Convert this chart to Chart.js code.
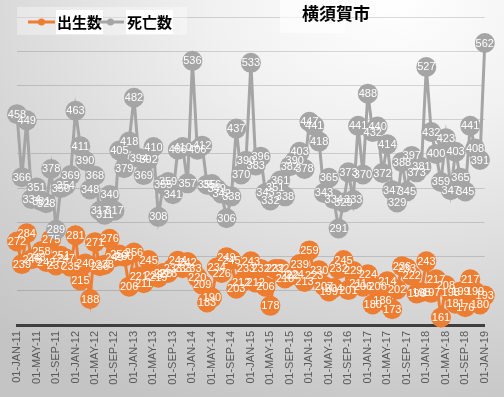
<!DOCTYPE html>
<html>
<head>
<meta charset="utf-8">
<script src="https://cdn.jsdelivr.net/npm/chart.js@4.4.1/dist/chart.umd.min.js"></script>
<style>
    html, body { margin: 0; padding: 0; }
    body {
        width: 504px;
        height: 397px;
        overflow: hidden;
        background: radial-gradient(ellipse 120% 110% at 78% 0%, #ffffff 0%, #f1f1f1 30%, #d6d6d6 70%, #c4c4c4 100%);
    }
    #wrap { position: relative; width: 504px; height: 397px; }
</style>
</head>
<body>
<div id="wrap"><canvas id="chart"></canvas></div>
<script>
    // data: monthly, Jan 2011 .. Jan 2019
    const monthNames = ['JAN', 'FEB', 'MAR', 'APR', 'MAY', 'JUN', 'JUL', 'AUG', 'SEP', 'OCT', 'NOV', 'DEC'];
    const years = ['11', '12', '13', '14', '15', '16', '17', '18', '19'];

    const births = [
        272, 239, 284, 246, 248, 258, 242, 275, 237, 251, 247, 235,
        281, 215, 240, 188, 271, 236, 238, 276, 249, 253, 250, 206,
        256, 221, 211, 245, 223, 219, 226, 226, 233, 244, 233, 242,
        233, 220, 209, 183, 190, 234, 226, 249, 245, 203, 212, 233,
        243, 212, 232, 206, 178, 232, 232, 218, 222, 224, 239, 213,
        259, 223, 230, 207, 199, 204, 232, 245, 201, 229, 211, 206,
        224, 180, 206, 186, 214, 173, 202, 236, 233, 222, 196, 198,
        243, 197, 217, 161, 208, 198, 181, 199, 176, 217, 199, 180,
        193
    ];
    const deaths = [
        458, 366, 449, 334, 351, 331, 328, 378, 289, 350, 354, 369,
        463, 411, 390, 348, 368, 317, 311, 340, 317, 405, 379, 418,
        482, 394, 369, 392, 410, 308, 355, 359, 341, 406, 410, 357,
        536, 406, 412, 355, 356, 349, 342, 306, 338, 437, 370, 390,
        533, 383, 396, 343, 332, 351, 361, 338, 382, 390, 403, 378,
        447, 441, 418, 343, 365, 334, 291, 329, 373, 333, 441, 370,
        488, 432, 440, 372, 414, 347, 329, 388, 345, 397, 373, 381,
        527, 432, 400, 359, 423, 347, 403, 365, 345, 441, 408, 391,
        562
    ];

    const labels = [];
    years.forEach((y) => {
        monthNames.forEach((m) => {
            if (labels.length < births.length) {
                labels.push('01-' + m + '-' + y);
            }
        });
    });

    const ORANGE = '#ED7D31';
    const GRAY = '#A5A5A5';

    // white value text inside each marker
    const valueLabels = {
        id: 'valueLabels',
        afterDatasetsDraw(chart) {
            const ctx = chart.ctx;
            ctx.save();
            ctx.font = '11px "Liberation Sans", Arial, sans-serif';
            ctx.fillStyle = '#ffffff';
            ctx.textAlign = 'center';
            ctx.textBaseline = 'middle';
            [1, 0].forEach((di) => {
                const ds = chart.data.datasets[di];
                chart.getDatasetMeta(di).data.forEach((pt, i) => {
                    ctx.fillText(String(ds.data[i]), pt.x, pt.y + 0.5);
                });
            });
            ctx.restore();
        },
    };

    // legend box top-left and city title
    const headerDraw = {
        id: 'headerDraw',
        afterDraw(chart) {
            const ctx = chart.ctx;
            ctx.save();
            ctx.fillStyle = 'rgba(255,255,255,0.35)';
            ctx.fillRect(17, 7, 170, 28);
            ctx.fillStyle = 'rgba(255,255,255,0.6)';
            ctx.fillRect(280, 0, 65, 33);

            const items = [
                { x: 28, color: ORANGE, text: '出生数' },
                { x: 97, color: GRAY, text: '死亡数' },
            ];
            ctx.font = 'bold 15px "Noto Sans CJK JP", sans-serif';
            ctx.textBaseline = 'middle';
            items.forEach((it) => {
                ctx.strokeStyle = it.color;
                ctx.lineWidth = 3;
                ctx.beginPath();
                ctx.moveTo(it.x, 22);
                ctx.lineTo(it.x + 27, 22);
                ctx.stroke();
                ctx.fillStyle = it.color;
                ctx.beginPath();
                ctx.arc(it.x + 13.5, 22, 3.5, 0, Math.PI * 2);
                ctx.fill();
                const tx = it.x + (it.text === '出生数' ? 29 : 30);
                const w = ctx.measureText(it.text).width;
                ctx.fillStyle = '#ffffff';
                ctx.fillRect(tx - 1, 10, w + 2, 24);
                ctx.fillStyle = '#000000';
                ctx.textAlign = 'left';
                ctx.fillText(it.text, tx, 22);
            });

            ctx.font = 'bold 17px "Noto Sans CJK JP", sans-serif';
            ctx.fillStyle = '#000000';
            ctx.textAlign = 'left';
            ctx.fillText('横須賀市', 302, 14);
            ctx.restore();
        },
    };

    new Chart(document.getElementById('chart'), {
        type: 'line',
        data: {
            labels: labels,
            datasets: [
                {
                    label: '出生数',
                    data: births,
                    borderColor: ORANGE,
                    backgroundColor: ORANGE,
                    borderWidth: 3,
                    pointRadius: 10,
                    pointHoverRadius: 10,
                    pointBorderWidth: 0,
                    tension: 0,
                    order: 1,
                    clip: false,
                },
                {
                    label: '死亡数',
                    data: deaths,
                    borderColor: GRAY,
                    backgroundColor: GRAY,
                    borderWidth: 3,
                    pointRadius: 10,
                    pointHoverRadius: 10,
                    pointBorderWidth: 0,
                    tension: 0,
                    order: 0,
                    clip: false,
                },
            ],
        },
        options: {
            responsive: true,
            maintainAspectRatio: false,
            animation: false,
            layout: { padding: { left: 17, right: 19, top: 17, bottom: 0 } },
            plugins: {
                legend: { display: false },
                tooltip: { enabled: false },
                title: { display: false },
            },
            scales: {
                x: {
                    offset: false,
                    grid: { display: false, drawTicks: false },
                    border: { display: true, color: '#3f3f3f', width: 3 },
                    ticks: {
                        autoSkip: false,
                        minRotation: 90,
                        maxRotation: 90,
                        padding: 6,
                        color: '#595959',
                        font: { family: '"Liberation Sans", Arial, sans-serif', size: 11 },
                        callback: function (value, index) {
                            return index % 4 === 0 ? this.getLabelForValue(value) : '';
                        },
                    },
                    afterFit: (scale) => { scale.height = 72; },
                },
                y: {
                    min: 150,
                    max: 600,
                    grid: { color: 'rgba(0,0,0,0.14)', drawTicks: false },
                    border: { display: false },
                    ticks: { display: false, stepSize: 50 },
                    afterFit: (scale) => { scale.width = 0; },
                },
            },
        },
        plugins: [valueLabels, headerDraw],
    });
</script>
</body>
</html>
